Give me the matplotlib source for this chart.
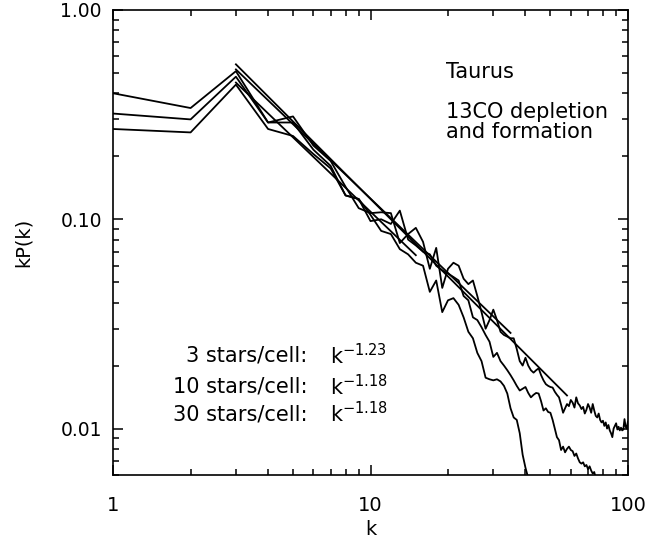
import numpy as np
import matplotlib
matplotlib.use("Agg")
from matplotlib import pyplot as plt
from matplotlib.ticker import FixedLocator, NullFormatter

# power spectra kP(k), integer k starting at 1
kp_3 = [0.40, 0.34, 0.51, 0.29, 0.31, 0.225, 0.19, 0.143, 0.113, 0.107,
        0.108, 0.107, 0.077, 0.085, 0.091, 0.078, 0.058, 0.073, 0.047, 0.058,
        0.062, 0.060, 0.052, 0.049, 0.051, 0.043, 0.036, 0.030, 0.033, 0.037,
        0.033, 0.029, 0.028, 0.0275, 0.027, 0.027, 0.024, 0.021, 0.020, 0.0218,
        0.020, 0.019, 0.0185, 0.019, 0.0194, 0.018, 0.017, 0.0163, 0.016, 0.0158,
        0.0157, 0.015, 0.0145, 0.0141, 0.013, 0.0119, 0.0125, 0.0131, 0.0128, 0.0137,
        0.0133, 0.0126, 0.0141, 0.0132, 0.0129, 0.0124, 0.0127, 0.0118, 0.0123, 0.0131,
        0.0126, 0.0119, 0.0131, 0.0122, 0.0115, 0.0113, 0.0118, 0.0110, 0.0107, 0.0109,
        0.0103, 0.0107, 0.0100, 0.0104, 0.0098, 0.0095, 0.0091, 0.0100, 0.0103, 0.0106,
        0.0099, 0.0102, 0.0098, 0.0101, 0.0098, 0.0099, 0.0111, 0.0102, 0.0100, 0.0108]

kp_10 = [0.32, 0.30, 0.48, 0.29, 0.29, 0.215, 0.18, 0.13, 0.125, 0.098,
         0.10, 0.095, 0.11, 0.08, 0.075, 0.07, 0.068, 0.060, 0.057, 0.055,
         0.053, 0.051, 0.043, 0.041, 0.034, 0.033, 0.0305, 0.028, 0.026, 0.022,
         0.023, 0.021, 0.020, 0.019, 0.018, 0.017, 0.016, 0.0152, 0.0155, 0.0158,
         0.0148, 0.0141, 0.0145, 0.0148, 0.0147, 0.0135, 0.0122, 0.0125, 0.0120, 0.0119,
         0.0110, 0.0100, 0.0091, 0.0088, 0.0079, 0.0082, 0.0077, 0.0080, 0.0082, 0.0079,
         0.0078, 0.0074, 0.0076, 0.0072, 0.0069, 0.0068, 0.0069, 0.0066, 0.0067, 0.0064,
         0.0066, 0.0063, 0.0061, 0.0062, 0.0058, 0.0052]

kp_30 = [0.27, 0.26, 0.44, 0.27, 0.25, 0.205, 0.175, 0.13, 0.125, 0.105,
         0.088, 0.085, 0.072, 0.068, 0.062, 0.060, 0.045, 0.051, 0.036, 0.041,
         0.042, 0.039, 0.034, 0.029, 0.027, 0.023, 0.021, 0.0175, 0.0172, 0.0170,
         0.0172, 0.0168, 0.0160, 0.0147, 0.0125, 0.0113, 0.0110, 0.0095, 0.0075, 0.0065,
         0.0058, 0.0050]

# power law fits: exponent, k range, value at k = 3
fit_slopes = [-1.23, -1.18, -1.18]
fit_kmin = [3, 3, 3]
fit_kmax = [58, 35, 15]
fit_amp3 = [0.55, 0.52, 0.45]

labels = ["3 stars/cell:", "10 stars/cell:", "30 stars/cell:"]
exps = ["-1.23", "-1.18", "-1.18"]

plt.rcParams['font.family'] = ['DejaVu Sans']
fig = plt.figure(figsize=(6.5, 5.42), dpi=100)
ax = fig.add_axes([0.174, 0.1236, 0.792, 0.858])

for kp in [kp_3, kp_10, kp_30]:
    k = np.arange(1, len(kp) + 1)
    ax.plot(k, kp, color="black", lw=1.3)

for s, k0, k1, a in zip(fit_slopes, fit_kmin, fit_kmax, fit_amp3):
    kk = np.array([k0, k1], dtype=float)
    ax.plot(kk, a * (kk / 3.0) ** s, color="black", lw=1.3)

ax.set_xscale("log")
ax.set_yscale("log")
ax.set_xlim(1, 100)
ax.set_ylim(0.006, 1.0)

ax.xaxis.set_major_locator(FixedLocator([1, 10, 100]))
ax.set_xticklabels(["1", "10", "100"])
ax.yaxis.set_major_locator(FixedLocator([0.01, 0.1, 1.0]))
ax.set_yticklabels(["0.01", "0.10", "1.00"])
ax.xaxis.set_minor_formatter(NullFormatter())
ax.yaxis.set_minor_formatter(NullFormatter())

ax.tick_params(which="both", direction="in", top=True, right=True, width=1.1)
ax.tick_params(which="major", length=7.5)
ax.tick_params(which="minor", length=4)
ax.tick_params(axis="x", which="major", pad=15, labelsize=14)
ax.tick_params(axis="y", which="major", pad=8, labelsize=13.5)
for sp in ax.spines.values():
    sp.set_linewidth(1.2)

ax.set_xlabel("k", fontsize=14, labelpad=4)
ax.set_ylabel("kP(k)", fontsize=14, labelpad=20)

fs = 15
ax.text(0.647, 0.867, "Taurus", transform=ax.transAxes, fontsize=fs,
        ha="left", va="center")
ax.text(0.647, 0.781, "13CO depletion", transform=ax.transAxes, fontsize=fs,
        ha="left", va="center")
ax.text(0.647, 0.738, "and formation", transform=ax.transAxes, fontsize=fs,
        ha="left", va="center")

ys = [0.256, 0.191, 0.131]
for lab, e, y in zip(labels, exps, ys):
    ax.text(0.377, y, lab, transform=ax.transAxes, fontsize=fs,
            ha="right", va="center")
    ax.text(0.421, y, r"$\mathregular{k^{" + e + "}}$", transform=ax.transAxes,
            fontsize=fs, ha="left", va="center")

fig.savefig("out.png", dpi=100)
